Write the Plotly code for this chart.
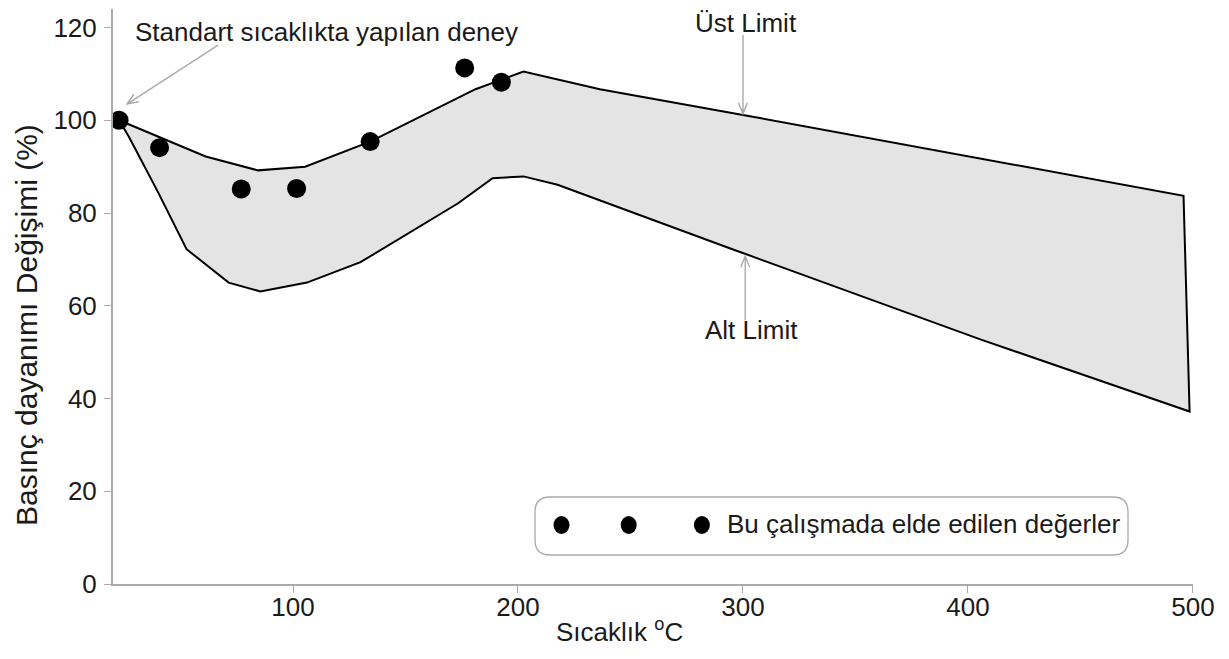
import math

import plotly.graph_objects as go

# Ölçülen deney noktaları
deney_x = [22.7, 40.7, 77.0, 101.6, 134.3, 176.3, 192.6]
deney_y = [100.0, 94.1, 85.2, 85.3, 95.4, 111.3, 108.2]

# Üst limit eğrisi
ust_x = [22.7, 61.2, 84.4, 105.4, 134.3, 181.1, 202.4, 236.4, 300.6, 495.8]
ust_y = [100.0, 92.2, 89.2, 90.0, 95.4, 106.7, 110.5, 106.7, 101.1, 83.7]

# Alt limit eğrisi
alt_x = [22.7, 27.0, 40.0, 52.7, 71.4, 85.5, 106.2, 130.0, 173.4, 188.7, 202.4, 217.6, 236.0, 295.3, 405.8, 498.5]
alt_y = [100.0, 96.5, 84.5, 72.2, 65.0, 63.1, 65.0, 69.4, 82.1, 87.5, 87.9, 86.1, 82.8, 72.2, 52.7, 37.2]

x_ticks = [100, 200, 300, 400, 500]
y_ticks = [0, 20, 40, 60, 80, 100, 120]

FONT = "Liberation Sans, Arial, sans-serif"
GREY = "#aaaaaa"

# the page body adds an 8px margin, so the figure is 16px smaller than the window
W, H = 1213, 643
M_L, M_R, M_T, M_B = 105, 28, 1, 67
X_RANGE = [20, 500.01]
Y_RANGE = [0, 124]
PLOT_W = W - M_L - M_R
PLOT_H = H - M_T - M_B
PX_X = PLOT_W / (X_RANGE[1] - X_RANGE[0])
PX_Y = PLOT_H / (Y_RANGE[1] - Y_RANGE[0])


def arrow_path(x0, y0, x1, y1, head=12, spread=0.38):
    """Open V arrow from (x0, y0) to (x1, y1) in data units."""
    ang = math.atan2((y1 - y0) * PX_Y, (x1 - x0) * PX_X)
    path = f"M {x0},{y0} L {x1},{y1}"
    wings = []
    for s in (spread, -spread):
        wx = x1 - head * math.cos(ang + s) / PX_X
        wy = y1 - head * math.sin(ang + s) / PX_Y
        wings.append((wx, wy))
    path += f" M {wings[0][0]},{wings[0][1]} L {x1},{y1} L {wings[1][0]},{wings[1][1]}"
    return path


def rounded_box(x0, y0, x1, y1, r_px=15):
    rx = r_px / PLOT_W
    ry = r_px / PLOT_H
    return (
        f"M {x0 + rx},{y0} L {x1 - rx},{y0} Q {x1},{y0} {x1},{y0 + ry} "
        f"L {x1},{y1 - ry} Q {x1},{y1} {x1 - rx},{y1} L {x0 + rx},{y1} "
        f"Q {x0},{y1} {x0},{y1 - ry} L {x0},{y0 + ry} Q {x0},{y0} {x0 + rx},{y0} Z"
    )


def px_to_paper_x(px):
    return (px - 113) / PLOT_W


def px_to_paper_y(py):
    return (584 - py) / PLOT_H


band_x = ust_x + alt_x[::-1]
band_y = ust_y + alt_y[::-1]

fig = go.Figure()
fig.add_trace(
    go.Scatter(
        x=band_x,
        y=band_y,
        mode="lines",
        fill="toself",
        fillcolor="#e4e4e4",
        line={"color": "black", "width": 2},
        showlegend=False,
        hoverinfo="skip",
    )
)
fig.add_trace(
    go.Scatter(
        x=deney_x,
        y=deney_y,
        mode="markers",
        marker={"color": "black", "size": 19},
        name="Bu çalışmada elde edilen değerler",
        showlegend=False,
    )
)

shapes = [
    {"type": "path", "path": arrow_path(66.7, 116.2, 26.2, 103.5), "xref": "x", "yref": "y",
     "line": {"color": GREY, "width": 1.4}},
    {"type": "path", "path": arrow_path(300.0, 118.4, 300.0, 101.4), "xref": "x", "yref": "y",
     "line": {"color": GREY, "width": 1.4}},
    {"type": "path", "path": arrow_path(301.0, 56.9, 301.0, 70.7), "xref": "x", "yref": "y",
     "line": {"color": GREY, "width": 1.4}},
    {"type": "path", "xref": "paper", "yref": "paper",
     "path": rounded_box(px_to_paper_x(535), px_to_paper_y(555), px_to_paper_x(1128), px_to_paper_y(497)),
     "line": {"color": GREY, "width": 1.3}, "fillcolor": "white"},
]
for lpx in [561.5, 628.7, 701.9]:
    shapes.append(
        {"type": "circle", "xref": "paper", "yref": "paper", "xsizemode": "pixel", "ysizemode": "pixel",
         "xanchor": px_to_paper_x(lpx), "yanchor": px_to_paper_y(525), "x0": -8, "x1": 8, "y0": -9, "y1": 9,
         "fillcolor": "black", "line": {"color": "black", "width": 0}}
    )

annotations = [
    {"text": "Standart sıcaklıkta yapılan deney", "x": 28.9, "y": 119.0, "xref": "x", "yref": "y",
     "xanchor": "left", "yanchor": "middle", "showarrow": False},
    {"text": "Üst Limit", "x": 301.3, "y": 121.0, "xref": "x", "yref": "y",
     "xanchor": "center", "yanchor": "middle", "showarrow": False, "borderpad": 0},
    {"text": "Alt Limit", "x": 304.0, "y": 54.8, "xref": "x", "yref": "y",
     "xanchor": "center", "yanchor": "middle", "showarrow": False},
    {"text": "Bu çalışmada elde edilen değerler", "x": px_to_paper_x(725), "y": px_to_paper_y(524),
     "xref": "paper", "yref": "paper", "xanchor": "left", "yanchor": "middle", "showarrow": False},
    {"text": "Sıcaklık <sup>o</sup>C", "x": px_to_paper_x(619), "y": px_to_paper_y(630),
     "xref": "paper", "yref": "paper", "xanchor": "center", "yanchor": "middle", "showarrow": False},
    {"text": "Basınç dayanımı Değişimi (%)", "x": px_to_paper_x(26), "y": px_to_paper_y(325),
     "xref": "paper", "yref": "paper", "xanchor": "center", "yanchor": "middle", "textangle": -90,
     "font": {"size": 30}, "showarrow": False, "borderpad": 0},
]

fig.update_layout(
    width=W,
    height=H,
    margin={"l": M_L, "r": M_R, "t": M_T, "b": M_B, "autoexpand": False},
    paper_bgcolor="white",
    plot_bgcolor="white",
    font={"family": FONT, "size": 26, "color": "#1a1a1a"},
    shapes=shapes,
    annotations=annotations,
    showlegend=False,
)
fig.update_xaxes(
    range=X_RANGE,
    tickvals=x_ticks,
    showgrid=False,
    zeroline=False,
    showline=True,
    linecolor=GREY,
    linewidth=2,
    ticks="outside",
    ticklen=7,
    tickcolor=GREY,
    ticklabelstandoff=-8,
)
fig.update_yaxes(
    range=Y_RANGE,
    tickvals=y_ticks,
    showgrid=False,
    zeroline=False,
    showline=True,
    linecolor=GREY,
    linewidth=2,
    ticks="outside",
    ticklen=7,
    tickcolor=GREY,
    ticklabelstandoff=2,
)

fig.write_html("out.html")
